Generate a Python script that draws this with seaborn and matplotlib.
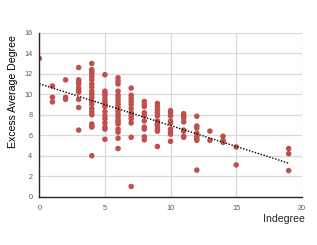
import matplotlib
matplotlib.use("Agg")
import matplotlib.pyplot as plt
import seaborn as sns
import pandas as pd

# Data: (indegree, excess average degree) grouped by indegree
x0 = [13.5]
x1 = [10.8, 9.7, 9.25]
x2 = [11.4, 9.7, 9.5]
x3 = [12.6, 11.4, 11.2, 11.0, 10.6, 10.4, 10.2, 9.5, 8.7, 6.5]
x4 = [13.0, 12.4, 12.2, 12.0, 11.7, 11.4, 11.0, 10.7, 10.3, 10.0, 9.7, 9.3,
      9.0, 8.6, 8.3, 8.0, 7.1, 6.9, 6.8, 4.0]
x5 = [11.9, 10.3, 10.1, 9.9, 9.6, 9.3, 9.1, 8.8, 8.3, 7.9, 7.6, 7.2, 6.8, 6.6, 5.6]
x6 = [11.6, 11.3, 11.0, 10.3, 9.9, 9.6, 9.3, 9.0, 8.7, 8.4, 8.1, 7.8, 7.5,
      7.3, 7.1, 6.6, 6.3, 5.7, 4.7]
x7 = [10.6, 9.9, 9.6, 9.3, 9.0, 8.6, 8.2, 7.9, 7.6, 7.2, 5.8, 1.0]
x8 = [9.3, 9.0, 8.8, 8.2, 7.9, 7.4, 6.8, 6.6, 5.85, 5.55]
x9 = [9.1, 8.8, 8.5, 8.2, 7.9, 7.4, 7.1, 7.0, 6.7, 6.4, 4.9]
x10 = [8.4, 8.2, 7.9, 7.4, 7.2, 6.6, 6.3, 6.1, 5.4]
x11 = [8.1, 7.9, 7.7, 7.3, 6.5, 6.4, 5.9, 5.8]
x12 = [7.85, 6.9, 6.7, 6.2, 5.9, 5.7, 5.5, 2.6]
x13 = [6.4, 5.5]
x14 = [5.9, 5.5, 5.3]
x15 = [4.85, 3.1]
x19 = [4.7, 4.2, 2.55]

groups = {0: x0, 1: x1, 2: x2, 3: x3, 4: x4, 5: x5, 6: x6, 7: x7, 8: x8,
          9: x9, 10: x10, 11: x11, 12: x12, 13: x13, 14: x14, 15: x15, 19: x19}
xs, ys = [], []
for k, vals in groups.items():
    xs += [k] * len(vals)
    ys += vals
df = pd.DataFrame({"Indegree": xs, "Excess Average Degree": ys})

x_ticks = [0, 5, 10, 15, 20]
y_ticks = [0, 2, 4, 6, 8, 10, 12, 14, 16]

sns.set_style("white")
plt.rcParams["font.family"] = ["Liberation Sans", "DejaVu Sans"]

fig = plt.figure(figsize=(3.17, 2.45), dpi=100)
ax = fig.add_axes([0.124, 0.197, 0.828, 0.6695])

sns.scatterplot(data=df, x="Indegree", y="Excess Average Degree", ax=ax,
                color="#C0504D", s=16, edgecolor="none", zorder=3)
sns.regplot(data=df, x="Indegree", y="Excess Average Degree", ax=ax,
            scatter=False, ci=None, truncate=True,
            line_kws=dict(color="black", linestyle=(0, (1, 1.2)), linewidth=1.0, zorder=4))

ax.set_xlim(0, 20)
ax.set_ylim(0, 16)
ax.set_xticks(x_ticks)
ax.set_yticks(y_ticks)
ax.tick_params(labelsize=5.2, colors="#595959", length=0)
ax.tick_params(axis="x", pad=6)
ax.tick_params(axis="y", pad=5)
ax.grid(True, color="#d9d9d9", linewidth=0.9)
ax.set_axisbelow(True)
for s in ["top", "right"]:
    ax.spines[s].set_visible(False)
for s in ["left", "bottom"]:
    ax.spines[s].set_color("#262626")
    ax.spines[s].set_linewidth(1.0)
    ax.spines[s].set_zorder(5)

ax.set_xlabel("")
ax.set_ylabel("Excess Average Degree", fontsize=7.6, color="black")
ax.yaxis.set_label_coords(-0.083, 0.644)
fig.text(305 / 317, 1 - 219 / 245, "Indegree", fontsize=7.6, ha="right", va="center")

fig.savefig("out.png", dpi=100)
